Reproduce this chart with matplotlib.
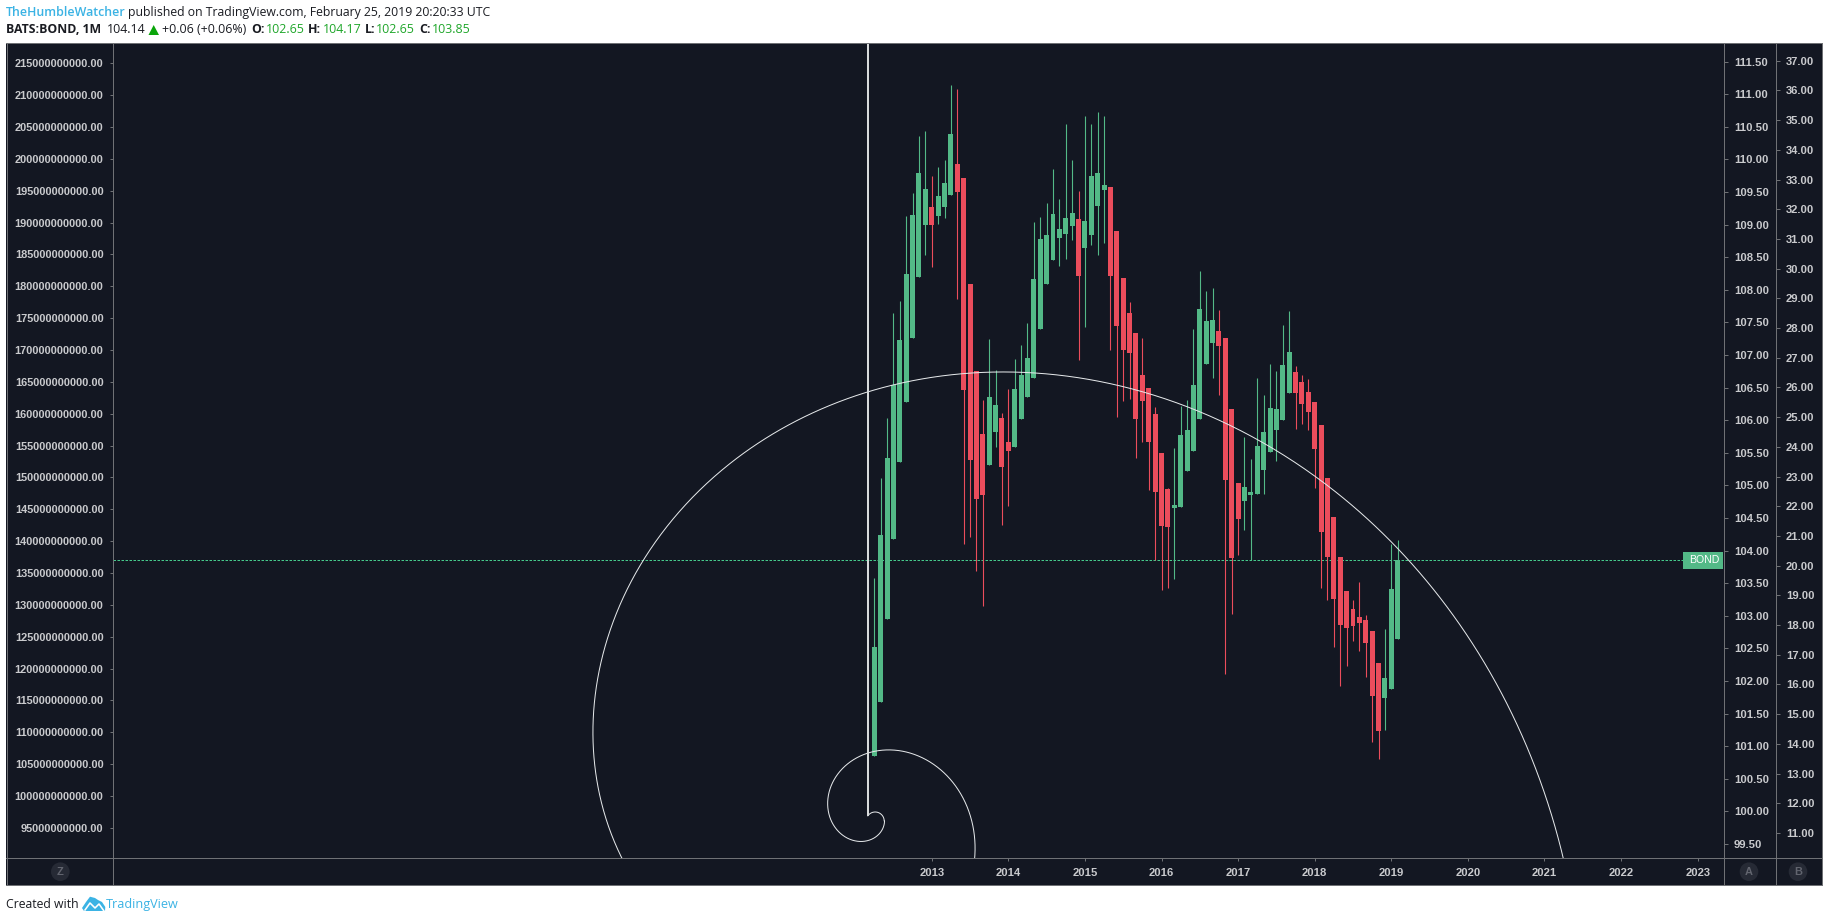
import numpy as np
import matplotlib
matplotlib.use("Agg")
import matplotlib.pyplot as plt
from matplotlib.patches import Rectangle, Circle, Polygon

# monthly candles of BATS:BOND, first one is April 2012
opens = [100.85, 101.68, 102.95, 104.18, 105.36, 106.28, 107.26, 108.20, 108.99, 109.27,
         109.13, 109.27, 109.45, 109.93, 109.71, 108.09, 106.75, 105.79, 105.31, 105.82,
         106.03, 105.67, 105.59, 106.02, 106.36, 106.65, 107.40, 108.09, 108.46, 108.79,
         108.86, 108.98, 109.09, 108.64, 108.84, 109.29, 109.53, 109.58, 108.90, 108.18,
         107.64, 107.34, 106.69, 106.49, 106.10, 105.50, 104.95, 104.65, 104.67, 105.22,
         105.53, 106.02, 106.86, 107.18, 107.37, 107.26, 106.17, 105.04, 104.76, 104.85,
         104.87, 105.24, 105.51, 105.85, 106.00, 106.42, 106.74, 106.59, 106.43, 106.28,
         105.93, 105.11, 104.52, 103.90, 103.38, 103.11, 102.98, 102.94, 102.77, 102.28,
         101.74, 101.88, 102.65]
highs = [103.58, 105.11, 106.03, 107.64, 107.83, 109.13, 109.48, 110.36, 110.44, 109.75,
         109.88, 109.99, 111.14, 111.08, 109.71, 108.09, 106.75, 106.31, 107.25, 106.77,
         106.11, 106.48, 106.94, 107.15, 107.49, 109.04, 109.12, 109.33, 109.85, 109.39,
         110.54, 109.99, 109.52, 110.67, 110.54, 110.73, 110.67, 109.58, 108.90, 108.18,
         107.81, 107.34, 107.26, 106.49, 106.20, 105.50, 104.96, 105.57, 106.22, 106.31,
         107.40, 108.29, 107.98, 108.03, 107.69, 107.26, 106.17, 105.04, 105.74, 105.41,
         106.65, 106.39, 106.86, 106.75, 107.46, 107.68, 106.83, 106.69, 106.63, 106.28,
         105.93, 105.11, 104.52, 103.90, 103.38, 103.24, 103.52, 103.01, 102.77, 102.28,
         102.80, 104.10, 104.17]
lows = [100.85, 101.68, 102.95, 104.18, 105.36, 106.28, 107.26, 108.20, 108.53, 108.35,
        109.01, 109.10, 109.45, 107.86, 104.10, 104.21, 103.69, 103.15, 105.31, 105.59,
        104.39, 104.69, 105.59, 106.02, 106.36, 106.65, 107.40, 108.09, 108.46, 108.37,
        108.47, 108.76, 106.92, 107.43, 108.69, 108.53, 108.72, 107.08, 106.05, 106.30,
        106.33, 105.42, 105.67, 104.93, 103.86, 103.40, 103.43, 103.57, 104.67, 105.22,
        105.53, 106.02, 106.86, 106.65, 106.39, 102.11, 103.03, 103.93, 104.32, 103.86,
        104.87, 104.87, 105.51, 105.38, 106.00, 106.42, 105.87, 105.94, 105.85, 104.96,
        103.43, 103.24, 102.52, 101.92, 102.23, 102.61, 102.46, 102.06, 101.07, 100.80,
        101.25, 101.88, 102.65]
closes = [102.52, 104.24, 105.42, 106.54, 107.23, 108.24, 109.15, 109.79, 109.55, 108.99,
          109.44, 109.64, 110.39, 109.50, 106.46, 105.39, 104.79, 104.85, 106.36, 106.23,
          105.28, 105.53, 106.48, 106.69, 106.95, 108.17, 108.78, 108.84, 109.16, 108.93,
          109.10, 109.18, 108.21, 109.06, 109.75, 109.79, 109.61, 108.21, 107.45, 107.08,
          107.03, 106.02, 106.30, 105.67, 104.90, 104.38, 104.36, 104.70, 105.77, 105.85,
          106.54, 107.71, 107.52, 107.54, 107.14, 105.08, 103.89, 104.49, 104.98, 104.90,
          105.61, 105.82, 106.19, 106.17, 106.85, 107.05, 106.42, 106.25, 106.13, 105.56,
          104.29, 103.90, 103.26, 102.86, 102.81, 102.84, 102.89, 102.58, 101.77, 101.23,
          102.05, 103.41, 103.85]

years = [2013, 2014, 2015, 2016, 2017, 2018, 2019, 2020, 2021, 2022, 2023]
year_months = [9, 21, 33, 45, 57, 69, 81, 93, 105, 117, 129]
price_ticks = [99.5 + 0.5 * i for i in range(25)]
left_ticks = [95e9 + 5e9 * i for i in range(25)]
b_ticks = list(range(11, 38))

W, H = 1828, 922
BG = "#131722"
LINE = "#6f7175"
TXT = "#c9cacd"
GREEN = "#53b987"
RED = "#eb4d5c"
BLUE = "#3bb3e4"
QUOTE = "#1fa62a"
DARK = "#1a1c22"

plt.rcParams["font.family"] = ["Liberation Sans", "DejaVu Sans"]


def box(x0, y0, x1, y1):
    # pixel box (top left origin) to figure fractions
    return [x0 / W, 1 - y1 / H, (x1 - x0) / W, (y1 - y0) / H]


def px(n):
    return n * 0.72


fig = plt.figure(figsize=(W / 100, H / 100), dpi=100, facecolor="white")

# -----------------------------
# page background
# -----------------------------
back = fig.add_axes([0, 0, 1, 1], zorder=0)
back.set_xlim(0, W)
back.set_ylim(H, 0)
back.axis("off")
back.add_patch(Rectangle((6, 43.5), 1815.7, 841.5, facecolor=BG, edgecolor="none"))

# -----------------------------
# main chart, price scale A on the right
# -----------------------------
ax = fig.add_axes(box(113, 43.5, 1724.3, 858.3), zorder=1)
ax.set_facecolor("none")
ax.set_xlim(-119.27, 133.17)
ax.set_ylim(99.281, 111.777)
for s in ax.spines.values():
    s.set_visible(False)

months = np.arange(len(opens))
o = np.array(opens)
c = np.array(closes)
colors = [GREEN if b >= a else RED for a, b in zip(opens, closes)]

ax.axhline(closes[-1], xmax=(1683 - 113) / (1724.3 - 113), color="#45c98b", lw=px(1),
           ls=(0, (2.5, 1.5)), zorder=1)
ax.vlines(months, lows, highs, colors=colors, lw=px(1.1), zorder=2)
ax.bar(months, np.abs(c - o), bottom=np.minimum(o, c), width=0.78, color=colors, lw=0, zorder=3)

# fib spiral, works in screen pixels around the bottom of the vertical line
X_PX, Y_PX = 6.383, 65.2
center_x, center_y = -0.877, 99.93
growth = 1.61
deg = np.linspace(-612.5, 130, 3000)
r = 465.5 * growth ** ((deg - 17.5) / 90)
sx = r * np.sin(np.radians(deg))
sy = r * np.cos(np.radians(deg))
# the very first turn is a small hook
hook = np.radians(np.linspace(145, 0, 60))
hx = 6.5 + 9 * np.cos(hook)
hy = -5 + 9 * np.sin(hook)
sx = np.concatenate([hx, sx])
sy = np.concatenate([hy, sy])
ax.plot(center_x + sx / X_PX, center_y + sy / Y_PX, color="#e6e9eb", lw=px(1.0), zorder=4)
ax.plot([center_x - 0.08, center_x - 0.08], [center_y, 111.777], color="#d8dbdc", lw=px(2),
        solid_capstyle="butt", zorder=4)

ax.yaxis.tick_right()
ax.set_yticks(price_ticks)
ax.set_yticklabels([f"{v:.2f}" for v in price_ticks], fontweight="bold")
ax.set_xticks(year_months)
ax.set_xticklabels([str(y) for y in years], fontweight="bold")
ax.tick_params(axis="y", length=px(4), width=px(1), color=LINE, labelcolor=TXT, labelsize=px(11.2),
               pad=px(5.5))
ax.tick_params(axis="x", length=px(3), width=px(1), color=LINE, labelcolor=TXT, labelsize=px(11.2),
               pad=px(6.5))

# left scale
ax_left = fig.add_axes(box(113, 43.5, 1724.3, 858.3), zorder=1)
ax_left.set_facecolor("none")
ax_left.set_xticks([])
ax_left.set_ylim(90.213e9, 218.11e9)
for s in ax_left.spines.values():
    s.set_visible(False)
ax_left.set_yticks(left_ticks)
ax_left.set_yticklabels([f"{v:.2f}" for v in left_ticks], fontweight="bold")
ax_left.tick_params(axis="y", length=px(3.5), width=px(1), color=LINE, labelcolor=TXT,
                    labelsize=px(11), pad=px(6))

# second scale on the right
ax_b = fig.add_axes(box(1724.3, 43.5, 1776.3, 858.3), zorder=1)
ax_b.set_facecolor("none")
ax_b.set_xticks([])
ax_b.set_ylim(10.148, 37.58)
for s in ax_b.spines.values():
    s.set_visible(False)
ax_b.yaxis.tick_right()
ax_b.set_yticks(b_ticks)
ax_b.set_yticklabels([f"{v:.2f}" for v in b_ticks], fontweight="bold")
ax_b.tick_params(axis="y", length=px(4), width=px(1), color=LINE, labelcolor=TXT, labelsize=px(11.2),
                 pad=px(5.5))

# -----------------------------
# frame, header, footer, labels in pixels
# -----------------------------
top = fig.add_axes([0, 0, 1, 1], zorder=5)
top.set_xlim(0, W)
top.set_ylim(H, 0)
top.axis("off")
top.patch.set_visible(False)

for x in [6.5, 112.7, 1724.3, 1776.3, 1821.5]:
    top.plot([x, x], [43.5, 885], color=LINE, lw=px(1))
for y in [43.5, 858.3, 885]:
    top.plot([6, 1822], [y, y], color=LINE, lw=px(1))

for x, letter in [(60.3, "Z"), (1749, "A"), (1798, "B")]:
    top.add_patch(Circle((x, 871.7), 9.3, facecolor="#262a35", edgecolor="none"))
    top.text(x, 871.7, letter, color="#62656f", fontsize=px(11), fontweight="bold",
             ha="center", va="center")

# BOND tag at the end of the dotted line
top.add_patch(Rectangle((1683, 552), 40, 17, facecolor=GREEN, edgecolor="none"))
top.text(1704.8, 560.3, "BOND", color="white", fontsize=px(10.5), ha="center", va="center")

HEAD = "Open Sans"
top.text(6, 12.5, "TheHumbleWatcher", color=BLUE, fontsize=px(12.4), family=HEAD, fontweight="semibold",
         ha="left", va="center")
top.text(128, 12.5, "published on TradingView.com, February 25, 2019 20:20:33 UTC", color=DARK,
         fontsize=px(12.2), family=HEAD, ha="left", va="center")

top.text(6, 29.5, "BATS:BOND, 1M", color=DARK, fontsize=px(12.3), family=HEAD, fontweight="bold",
         ha="left", va="center")
top.text(106.5, 29.5, "104.14", color=DARK, fontsize=px(12.4), family=HEAD, ha="left", va="center")
top.add_patch(Polygon([(148.5, 35), (159, 35), (153.7, 25)], facecolor="#0aa50a", edgecolor="none"))
top.text(162, 29.5, "+0.06 (+0.06%)", color=DARK, fontsize=px(12.4), family=HEAD, ha="left", va="center")

for x_key, key, x_val, val in [(251, "O:", 265.5, "102.65"), (308, "H:", 322.5, "104.17"),
                               (365, "L:", 376, "102.65"), (419, "C:", 431.5, "103.85")]:
    top.text(x_key, 29.5, key, color=DARK, fontsize=px(12.4), family=HEAD, fontweight="bold",
             ha="left", va="center")
    top.text(x_val, 29.5, val, color=QUOTE, fontsize=px(12.4), family=HEAD, ha="left", va="center")

top.text(6, 904, "Created with", color=DARK, fontsize=px(12.3), family=HEAD, ha="left", va="center")
top.text(106, 904, "TradingView", color=BLUE, fontsize=px(12.6), family=HEAD, ha="left", va="center")

# TradingView logo
top.add_patch(Polygon([(82, 908), (86, 902), (90, 896.7), (95, 898), (98, 900), (102, 902), (105.3, 907),
                       (105, 911), (84, 911)], facecolor=BLUE, edgecolor="none"))
top.plot([85, 90, 95, 99, 104], [910, 903, 908, 904, 911], color="white", lw=px(1.6))

fig.savefig("out.png", dpi=100, facecolor="white")
